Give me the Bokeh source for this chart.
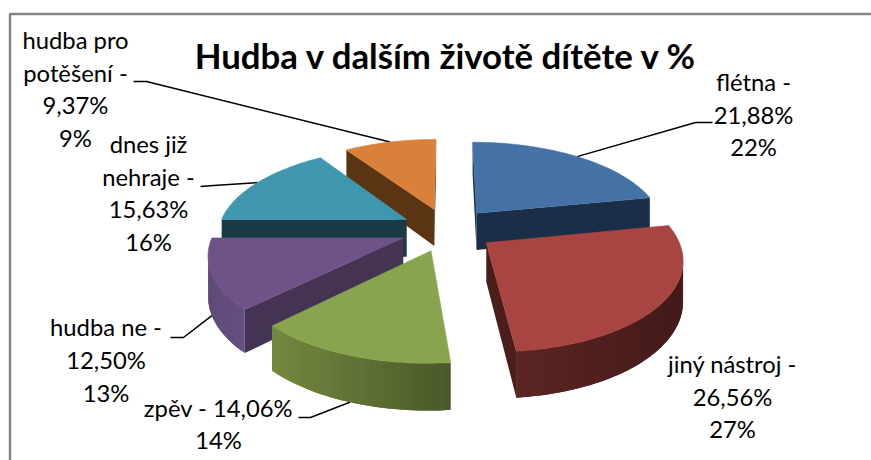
import numpy as np
from bokeh.plotting import figure
from bokeh.models import Range1d
from bokeh.core.properties import value
from bokeh.embed import file_html
from bokeh.resources import INLINE

# ---- data ----
categories = ["flétna", "jiný nástroj", "zpěv", "hudba ne", "dnes již nehraje", "hudba pro potěšení"]
percent_values = [21.88, 26.56, 14.06, 12.50, 15.63, 9.37]
percent_precise = ["21,88%", "26,56%", "14,06%", "12,50%", "15,63%", "9,37%"]
percent_rounded = ["22%", "27%", "14%", "13%", "16%", "9%"]
title_text = "Hudba v dalším životě dítěte v %"

# ---- style ----
top_colors = ["#4471a6", "#a84542", "#88a44e", "#6f5388", "#3f97af", "#d9813a"]
radial_colors = ["#1b2e47", "#4b1e1c", "#4f602c", "#443353", "#1a3a46", "#5b3414"]
arc_left = ["#1b2e47", "#5c2522", "#74893f", "#5f4a79", "#1a3a46", "#5b3414"]
arc_right = ["#1b2e47", "#431a18", "#495829", "#664e80", "#1a3a46", "#5b3414"]
draw_order = [5, 0, 4, 3, 2, 1]

# ---- layout (page pixels) ----
W, H = 871, 460
CX, CY, AX, BY, K, DEPTH, EXPLODE = 447, 229, 188.5, 87, 0.159, 38, 0.25
FONT = "Lato"
LABEL_PX = 23.8
TITLE_PX = 34.8
BASELINE_SHIFT = 0.38
# per category: lines, centre x, first baseline, spacing, elbow, leader anchor on bottom?
label_layout = {
    0: (["flétna -", "{p}", "{r}"], 753, 91, 32.5, [(712, 122), (695, 122)], False),
    1: (["jiný nástroj -", "{p}", "{r}"], 732, 373, 32.5, None, True),
    2: (["zpěv - {p}", "{r}"], 218, 417, 32, [(298, 417), (310, 417)], True),
    3: (["hudba ne -", "{p}", "{r}"], 105.5, 336, 33, [(170, 337), (183, 337)], True),
    4: (["dnes již", "nehraje -", "{p}", "{r}"], 148, 153, 32.5, [(200, 186), (213, 185)], False),
    5: (["hudba pro", "potěšení -", "{p}", "{r}"], 75, 49, 32.5, [(133, 81), (146, 81)], False),
}


def project(x, y, drop=False):
    w = 1 + K * y
    sx = CX + AX * x / w
    sy = CY - BY * y / w
    if drop:
        sy = sy + DEPTH / w
    return sx, sy


def mix(c1, c2, t):
    a = [int(c1[i:i + 2], 16) for i in (1, 3, 5)]
    b = [int(c2[i:i + 2], 16) for i in (1, 3, 5)]
    return "#%02x%02x%02x" % tuple(round(p + (q - p) * t) for p, q in zip(a, b))


p = figure(width=W, height=H, x_range=Range1d(0, W), y_range=Range1d(H, 0),
           output_backend="svg", toolbar_location=None, min_border=0, outline_line_color=None)
p.axis.visible = False
p.grid.visible = False

# chart frame: only its left and top sides fall inside the photo
p.line([9.5, 9.5, W], [H, 13.5, 13.5], line_color="#868686", line_width=2.5)

totals = np.cumsum([0] + percent_values)
scale = 360.0 / totals[-1]
starts = np.radians(totals[:-1] * scale)
ends = np.radians(totals[1:] * scale)
mids = (starts + ends) / 2

# leaders, beneath the slices
for i, (lines, cx, base, sp, elbow, on_bottom) in label_layout.items():
    if elbow is None:
        continue
    ox = EXPLODE * np.sin(mids[i])
    oy = EXPLODE * np.cos(mids[i])
    ax_, ay_ = project(ox + np.sin(mids[i]), oy + np.cos(mids[i]), on_bottom)
    xs = [e[0] for e in elbow] + [ax_]
    ys = [e[1] for e in elbow] + [ay_]
    p.line(xs, ys, line_color="black", line_width=1.5)

for i in draw_order:
    ox = EXPLODE * np.sin(mids[i])
    oy = EXPLODE * np.cos(mids[i])
    n = max(int(np.degrees(ends[i] - starts[i]) / 1.5), 4)
    th = np.linspace(starts[i], ends[i], n + 1)
    wx = np.concatenate([[ox], ox + np.sin(th)])
    wy = np.concatenate([[oy], oy + np.cos(th)])
    sx, sy = project(wx, wy)
    bx, by = project(wx, wy, True)

    # walls: perimeter runs clockwise, so an edge moving left faces the viewer
    m = len(sx)
    xmin, xmax = sx[1:].min(), sx[1:].max()
    for a in range(m):
        b = (a + 1) % m
        if sx[b] >= sx[a]:
            continue
        if a == 0 or b == 0:
            col = radial_colors[i]
            e = b
        else:
            col = mix(arc_left[i], arc_right[i], ((sx[a] + sx[b]) / 2 - xmin) / max(xmax - xmin, 1))
            # each band overlaps the next so no seam shows
            e = b + 1 if b + 1 < m and sx[b + 1] < sx[b] else b
        p.patch([sx[a], sx[b], sx[e], bx[e], bx[b], bx[a]],
                [sy[a], sy[b], sy[e], by[e], by[b], by[a]],
                fill_color=col, line_color=None)

    p.patch(sx, sy, fill_color=top_colors[i], line_color=top_colors[i], line_width=0.6)

# labels
tx, ty, tt = [], [], []
for i, (lines, cx, base, sp, elbow, on_bottom) in label_layout.items():
    for j, line in enumerate(lines):
        tx.append(cx)
        ty.append(base + j * sp - BASELINE_SHIFT * LABEL_PX)
        tt.append(line.format(p=percent_precise[i], r=percent_rounded[i]))
p.text(tx, ty, text=tt, text_align="center", text_baseline="alphabetic", text_color="black",
       text_font=value(FONT), text_font_size=value(f"{LABEL_PX}px"))

p.text([446], [68 - BASELINE_SHIFT * TITLE_PX], text=[title_text], text_align="center",
       text_baseline="alphabetic", text_color="black", text_font=value(FONT),
       text_font_style="bold", text_font_size=value(f"{TITLE_PX}px"))

open("out.html", "w").write(file_html(p, INLINE))
